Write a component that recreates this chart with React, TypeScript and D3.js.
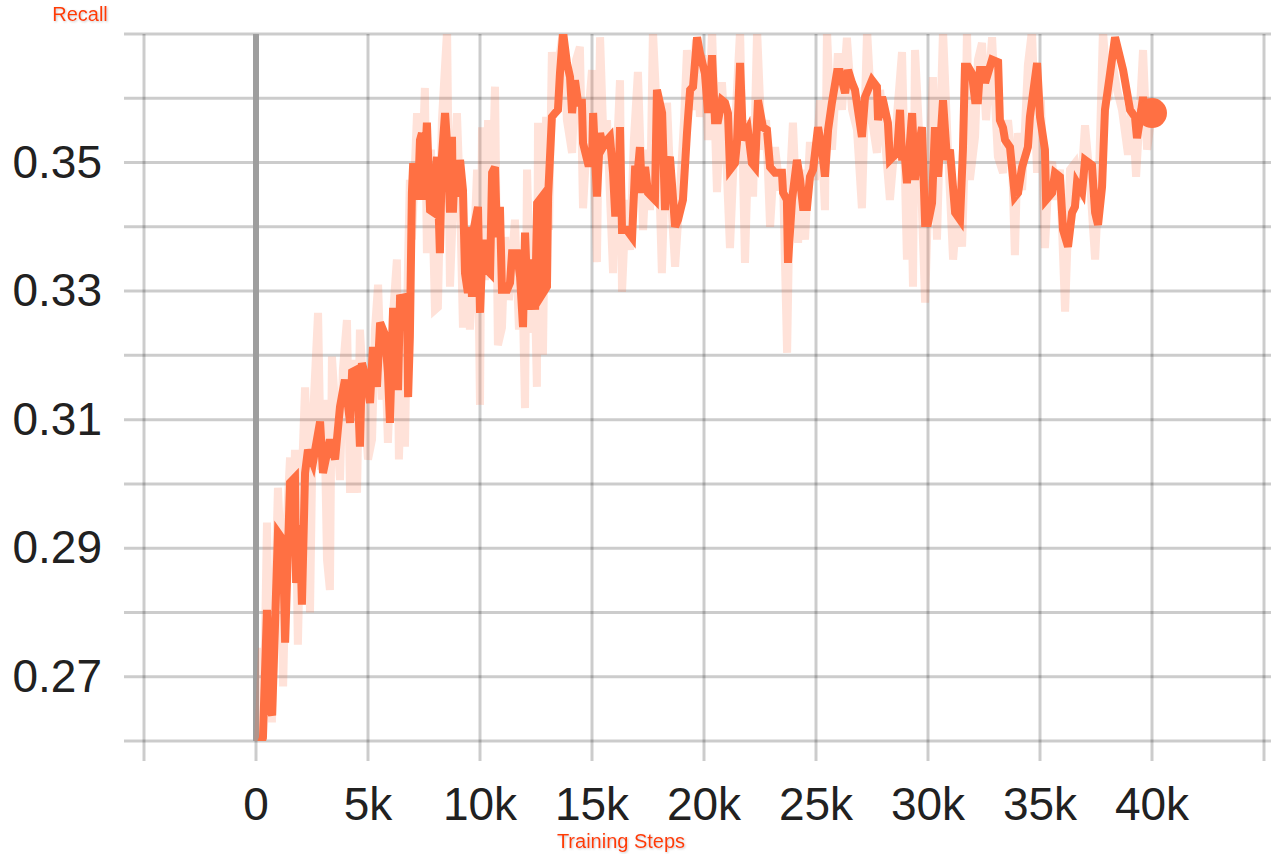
import React from "react";
import * as d3 from "d3";

// ---------- data ----------
const xTicks: number[] = [-5000, 0, 5000, 10000, 15000, 20000, 25000, 30000, 35000, 40000, 45000];
const xLabelTicks: number[] = [0, 5000, 10000, 15000, 20000, 25000, 30000, 35000, 40000];
const yGrid: number[] = [0.26, 0.27, 0.28, 0.29, 0.3, 0.31, 0.32, 0.33, 0.34, 0.35, 0.36, 0.37];
const yLabelTicks: number[] = [0.27, 0.29, 0.31, 0.33, 0.35];
const xTitle = "Training Steps";
const yTitle = "Recall";

// smoothed series [step, recall]
const smoothed: [number, number][] = [
  [100, 0.2585], [310, 0.2605], [490, 0.2804], [620, 0.265], [720, 0.264], [980, 0.2924], [1200, 0.2913],
  [1300, 0.2753], [1520, 0.3002], [1740, 0.301], [1790, 0.2846], [1960, 0.2936], [2050, 0.2812], [2190, 0.3017],
  [2320, 0.3053], [2540, 0.3033], [2680, 0.3061], [2860, 0.3097], [2990, 0.3017], [3300, 0.3069], [3530, 0.3038],
  [3750, 0.312], [3970, 0.3162], [4200, 0.3095], [4290, 0.3174], [4510, 0.3178], [4640, 0.3058], [4730, 0.3188],
  [4960, 0.3157], [5090, 0.3126], [5220, 0.3213], [5400, 0.3151], [5540, 0.3251], [5760, 0.3232], [5890, 0.3173],
  [5980, 0.3095], [6120, 0.3274], [6340, 0.3146], [6430, 0.3289], [6740, 0.3291], [6790, 0.3135], [6870, 0.3229],
  [6960, 0.3453], [7010, 0.3493], [7190, 0.3493], [7230, 0.3442], [7320, 0.3535], [7410, 0.3546], [7460, 0.3442],
  [7630, 0.3562], [7770, 0.3426], [7900, 0.3423], [8080, 0.3509], [8210, 0.3359], [8300, 0.3509], [8440, 0.3577],
  [8570, 0.3509], [8660, 0.3422], [8750, 0.354], [8790, 0.3422], [8880, 0.3499], [8970, 0.3447], [9110, 0.3504],
  [9240, 0.3457], [9330, 0.3328], [9460, 0.3297], [9550, 0.34], [9640, 0.3291], [9690, 0.3391], [9910, 0.3431],
  [10000, 0.3266], [10130, 0.338], [10310, 0.3333], [10450, 0.3328], [10540, 0.3484], [10670, 0.3493], [10760, 0.3384],
  [10890, 0.3431], [10980, 0.3302], [11210, 0.3302], [11340, 0.3313], [11430, 0.3359], [11650, 0.3359], [11790, 0.3322],
  [11920, 0.3244], [12010, 0.3391], [12140, 0.3271], [12320, 0.3349], [12460, 0.3271], [12550, 0.3437], [12770, 0.3447],
  [12810, 0.3297], [12990, 0.3307], [13040, 0.3447], [13210, 0.3571], [13350, 0.3577], [13480, 0.3582], [13570, 0.3639],
  [13710, 0.3702], [13880, 0.3655], [14020, 0.3633], [14110, 0.3577], [14240, 0.3628], [14380, 0.3593], [14550, 0.3593],
  [14600, 0.353], [14820, 0.3499], [15000, 0.3499], [15050, 0.3577], [15220, 0.3447], [15360, 0.3546], [15490, 0.3524],
  [15670, 0.3535], [15800, 0.354], [15940, 0.3484], [16030, 0.3422], [16160, 0.3422], [16250, 0.3555], [16340, 0.3395],
  [16560, 0.3395], [16790, 0.3384], [16920, 0.3489], [17050, 0.3489], [17140, 0.3524], [17230, 0.3453], [17370, 0.3493],
  [17500, 0.3453], [17810, 0.3442], [17900, 0.3613], [18130, 0.3577], [18260, 0.3426], [18350, 0.3493], [18480, 0.3509],
  [18710, 0.34], [18840, 0.3411], [19060, 0.3442], [19240, 0.3546], [19290, 0.3571], [19380, 0.3613], [19510, 0.3618],
  [19690, 0.3695], [19820, 0.367], [20040, 0.3639], [20180, 0.3577], [20360, 0.3667], [20490, 0.3566], [20630, 0.3566],
  [20800, 0.3597], [20940, 0.3593], [21070, 0.3577], [21160, 0.3489], [21380, 0.3499], [21470, 0.353], [21610, 0.3655],
  [21740, 0.3535], [21960, 0.3551], [22140, 0.3499], [22280, 0.3493], [22410, 0.3597], [22630, 0.3555], [22810, 0.3551],
  [22950, 0.3493], [23170, 0.3484], [23480, 0.3484], [23530, 0.3453], [23700, 0.3442], [23750, 0.3344], [23930, 0.3442],
  [24150, 0.3504], [24290, 0.3473], [24420, 0.3431], [24600, 0.3431], [24730, 0.3478], [24870, 0.3489], [25090, 0.3555],
  [25270, 0.352], [25400, 0.3478], [25540, 0.3551], [25710, 0.3593], [25940, 0.3641], [26070, 0.3641], [26300, 0.3608],
  [26430, 0.3644], [26610, 0.3624], [26740, 0.3613], [27050, 0.354], [27190, 0.3602], [27500, 0.3628], [27720, 0.3618],
  [27770, 0.3566], [27950, 0.3602], [27990, 0.3597], [28210, 0.3562], [28300, 0.3504], [28440, 0.3509], [28620, 0.3515],
  [28750, 0.3582], [28840, 0.3509], [28970, 0.3509], [29060, 0.3468], [29290, 0.3577], [29420, 0.3473], [29550, 0.3515],
  [29730, 0.3555], [29870, 0.3406], [30000, 0.3406], [30180, 0.3437], [30310, 0.3555], [30450, 0.3478], [30670, 0.3597],
  [30850, 0.3504], [30980, 0.352], [31210, 0.3422], [31430, 0.3411], [31560, 0.352], [31650, 0.3649], [31790, 0.3649],
  [31960, 0.3639], [32100, 0.3597], [32230, 0.3597], [32320, 0.3644], [32460, 0.3644], [32550, 0.3624], [32860, 0.366],
  [33130, 0.3656], [33210, 0.3566], [33350, 0.3554], [33440, 0.3535], [33660, 0.3524], [33880, 0.3447], [34020, 0.3453],
  [34200, 0.3493], [34460, 0.3524], [34550, 0.3571], [34870, 0.3655], [35000, 0.3571], [35220, 0.352], [35270, 0.3442],
  [35540, 0.3453], [35670, 0.3484], [35890, 0.3478], [36030, 0.3395], [36250, 0.3369], [36430, 0.3422], [36560, 0.3431],
  [36650, 0.3468], [36880, 0.3454], [37010, 0.3504], [37320, 0.3496], [37460, 0.3422], [37590, 0.3403], [37770, 0.3462],
  [37900, 0.3582], [38130, 0.3639], [38350, 0.3695], [38710, 0.3644], [39020, 0.3582], [39240, 0.3571], [39330, 0.3538],
  [39460, 0.3566], [39600, 0.3602], [39690, 0.3577], [40000, 0.3577],
];

// raw (unsmoothed) series [step, recall]
const raw: [number, number][] = [
  [90, 0.259], [270, 0.2745], [360, 0.2664], [490, 0.294], [620, 0.2695], [710, 0.2629], [850, 0.282], [980, 0.2994],
  [1120, 0.2882], [1210, 0.2685], [1380, 0.2944], [1520, 0.3041], [1650, 0.2913], [1740, 0.3053], [1870, 0.275],
  [2010, 0.2975], [2190, 0.315], [2320, 0.3022], [2410, 0.28], [2540, 0.31], [2770, 0.3266], [2900, 0.3022],
  [3040, 0.3131], [3170, 0.2882], [3300, 0.2835], [3390, 0.3198], [3570, 0.31], [3750, 0.3006], [3880, 0.3178],
  [4060, 0.3255], [4200, 0.2986], [4370, 0.3193], [4510, 0.2986], [4640, 0.324], [4820, 0.3131], [5000, 0.3038],
  [5180, 0.3069], [5310, 0.324], [5450, 0.331], [5620, 0.3131], [5760, 0.3209], [5890, 0.3064], [6070, 0.324],
  [6290, 0.3349], [6380, 0.3038], [6520, 0.3209], [6650, 0.3058], [6790, 0.3349], [6870, 0.3473], [6960, 0.338],
  [7190, 0.3577], [7370, 0.3442], [7540, 0.3616], [7630, 0.3359], [7810, 0.352], [7990, 0.3271], [8120, 0.3275],
  [8300, 0.3566], [8530, 0.3705], [8660, 0.3307], [8840, 0.3473], [8970, 0.3577], [9110, 0.3442], [9240, 0.3243],
  [9370, 0.3395], [9550, 0.324], [9730, 0.3364], [9870, 0.3489], [10000, 0.3123], [10090, 0.3555], [10220, 0.3317],
  [10360, 0.3566], [10540, 0.3442], [10670, 0.3618], [10800, 0.3216], [10980, 0.3243], [11120, 0.3384], [11290, 0.3286],
  [11560, 0.3411], [11740, 0.324], [11870, 0.3349], [12010, 0.3118], [12100, 0.3489], [12280, 0.3235], [12410, 0.3364],
  [12540, 0.3151], [12590, 0.3562], [12810, 0.3201], [12950, 0.3571], [13080, 0.3395], [13210, 0.3672], [13390, 0.3597],
  [13570, 0.367], [13710, 0.3705], [13880, 0.3566], [14110, 0.3515], [14290, 0.366], [14460, 0.368], [14600, 0.3429],
  [14820, 0.3566], [15000, 0.3644], [15220, 0.3345], [15360, 0.3695], [15540, 0.3504], [15670, 0.3566], [15940, 0.3328],
  [16120, 0.352], [16250, 0.3628], [16340, 0.3299], [16520, 0.3442], [16700, 0.3364], [16870, 0.3535], [17050, 0.3641],
  [17280, 0.3395], [17460, 0.352], [17590, 0.3426], [17720, 0.3705], [17950, 0.3535], [18120, 0.3328], [18350, 0.3593],
  [18530, 0.3442], [18710, 0.3338], [18930, 0.3457], [19110, 0.3566], [19240, 0.3675], [19460, 0.3582], [19640, 0.3691],
  [19820, 0.3571], [20040, 0.3667], [20180, 0.3535], [20360, 0.3705], [20580, 0.3454], [20800, 0.3625], [20980, 0.352],
  [21160, 0.3367], [21380, 0.3551], [21610, 0.3705], [21830, 0.3344], [22010, 0.3566], [22190, 0.3447], [22370, 0.3705],
  [22590, 0.352], [22770, 0.3566], [22950, 0.34], [23170, 0.3524], [23390, 0.3457], [23530, 0.3473], [23710, 0.3204],
  [23840, 0.3473], [23970, 0.3562], [24200, 0.3375], [24330, 0.3489], [24510, 0.338], [24730, 0.3532], [24960, 0.3473],
  [25180, 0.3597], [25400, 0.3426], [25490, 0.3705], [25710, 0.352], [25980, 0.367], [26160, 0.3582], [26380, 0.3694],
  [26610, 0.3582], [26830, 0.3551], [27050, 0.3429], [27280, 0.3705], [27500, 0.3566], [27720, 0.3515], [27860, 0.3613],
  [28080, 0.3535], [28300, 0.3442], [28530, 0.3535], [28840, 0.3672], [29060, 0.3349], [29200, 0.3566], [29330, 0.3307],
  [29420, 0.3675], [29640, 0.352], [29870, 0.3282], [30040, 0.3473], [30220, 0.3633], [30400, 0.338], [30540, 0.3551],
  [30670, 0.3705], [30890, 0.352], [31120, 0.3349], [31340, 0.3442], [31520, 0.3369], [31650, 0.352], [31740, 0.3705],
  [31870, 0.3473], [32100, 0.354], [32230, 0.366], [32410, 0.3686], [32590, 0.3566], [32860, 0.3695], [32990, 0.3597],
  [33120, 0.3509], [33350, 0.3484], [33570, 0.3566], [33750, 0.3504], [33880, 0.3356], [34020, 0.3546], [34200, 0.3457],
  [34460, 0.3652], [34640, 0.3705], [34870, 0.3484], [35040, 0.3597], [35220, 0.3367], [35400, 0.3489], [35540, 0.3501],
  [35710, 0.3442], [35890, 0.3489], [36120, 0.3268], [36340, 0.3489], [36560, 0.3499], [36790, 0.3442], [37010, 0.3558],
  [37230, 0.3473], [37460, 0.3349], [37630, 0.3473], [37810, 0.3705], [38040, 0.3597], [38210, 0.366], [38440, 0.3613],
  [38660, 0.3582], [38930, 0.3512], [39110, 0.3597], [39290, 0.3478], [39460, 0.3582], [39600, 0.3675], [39780, 0.352],
  [40000, 0.3577],
];

// ---------- layout ----------
const W = 1271;
const H = 854;
const plotTop = 34;
const plotBottom = 741;
const gridLeft = 124;
const gridRight = 1271;
const tickBottom = 761;

const LINE_COLOR = "#ff7043";
const TITLE_COLOR = "#ff3d00";
const FONT = "'Liberation Sans', Arial, Helvetica, sans-serif";

export default function App() {
  const x = d3.scaleLinear().domain([-5000, 45000]).range([144, 1264]);
  const y = d3.scaleLinear().domain([0.26, 0.37]).range([plotBottom, plotTop]);

  const line = d3
    .line<[number, number]>()
    .x((d) => x(d[0]))
    .y((d) => y(d[1]));

  const last = smoothed[smoothed.length - 1];

  return (
    <svg
      width={W}
      height={H}
      style={{ position: "absolute", left: 0, top: 0, background: "#fff" }}
      fontFamily={FONT}
    >
      <defs>
        <clipPath id="plotClip">
          <rect x={gridLeft} y={plotTop} width={gridRight - gridLeft} height={plotBottom - plotTop} />
        </clipPath>
        <filter id="glow" x="-20%" y="-40%" width="140%" height="180%">
          <feDropShadow dx="1" dy="1" stdDeviation="1" floodColor="#888" floodOpacity="0.45" />
        </filter>
      </defs>

      {/* horizontal grid */}
      {yGrid.map((v) => (
        <line
          key={"h" + v}
          x1={gridLeft}
          x2={gridRight}
          y1={y(v)}
          y2={y(v)}
          stroke="rgba(0,0,0,0.2)"
          strokeWidth={3}
        />
      ))}
      {/* vertical grid */}
      {xTicks.map((t) => (
        <line
          key={"v" + t}
          x1={x(t)}
          x2={x(t)}
          y1={plotTop}
          y2={tickBottom}
          stroke="rgba(0,0,0,0.2)"
          strokeWidth={3}
        />
      ))}
      {/* zero line */}
      <line x1={x(0)} x2={x(0)} y1={plotTop} y2={plotBottom} stroke="#9e9e9e" strokeWidth={6} />

      {/* series */}
      <g clipPath="url(#plotClip)">
        <path d={line(raw) || ""} fill="none" stroke={LINE_COLOR} strokeOpacity={0.2} strokeWidth={8} />
        <path d={line(smoothed) || ""} fill="none" stroke={LINE_COLOR} strokeWidth={8} />
      </g>
      <circle cx={x(last[0])} cy={y(last[1])} r={15} fill={LINE_COLOR} />

      {/* y labels */}
      {yLabelTicks.map((v) => (
        <text
          key={"yl" + v}
          x={102}
          y={y(v) + 15}
          textAnchor="end"
          fontSize={46}
          fill="#212121"
        >
          {v.toFixed(2)}
        </text>
      ))}
      {/* x labels */}
      {xLabelTicks.map((t) => (
        <text key={"xl" + t} x={x(t)} y={820} textAnchor="middle" fontSize={46} fill="#212121">
          {t === 0 ? "0" : d3.format("~s")(t)}
        </text>
      ))}

      {/* titles */}
      <text x={80} y={21} textAnchor="middle" fontSize={20} fill={TITLE_COLOR} filter="url(#glow)">
        {yTitle}
      </text>
      <text x={621} y={848} textAnchor="middle" fontSize={20} fill={TITLE_COLOR} filter="url(#glow)">
        {xTitle}
      </text>
    </svg>
  );
}
